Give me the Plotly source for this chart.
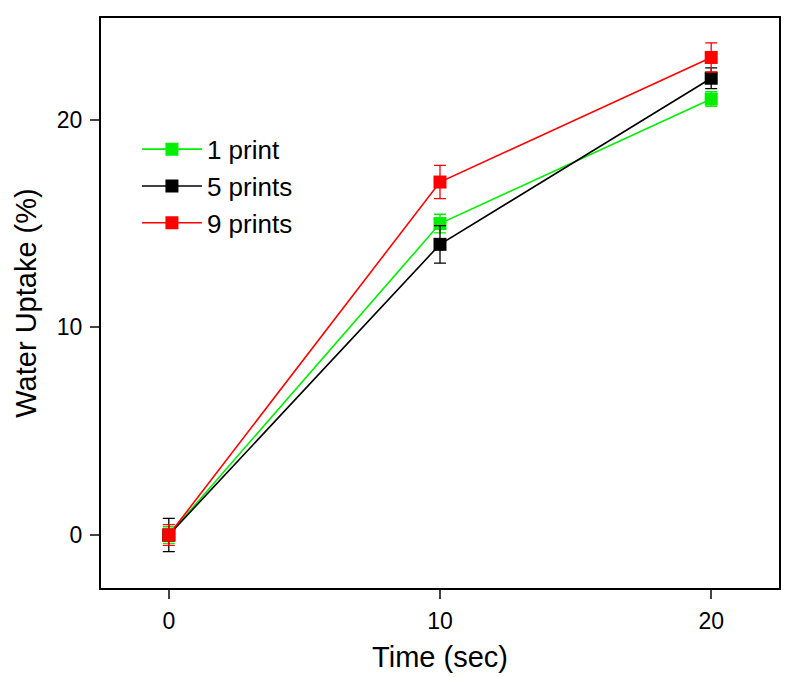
import plotly.graph_objects as go

time_sec = [0, 10, 20]
series_names = ["1 print", "5 prints", "9 prints"]
uptake_1 = [0, 15.0, 21.0]
err_1 = [0.4, 0.45, 0.35]
uptake_5 = [0, 14.0, 22.0]
err_5 = [0.8, 0.9, 0.5]
uptake_9 = [0, 17.0, 23.0]
err_9 = [0.5, 0.8, 0.7]
colors = ["#00ee00", "#000000", "#ff0000"]

fig = go.Figure()
for name, ys, es, c in zip(series_names, [uptake_1, uptake_5, uptake_9], [err_1, err_5, err_9], colors):
    fig.add_trace(go.Scatter(
        x=time_sec, y=ys, name=name, mode="lines+markers",
        line=dict(color=c, width=1.6),
        marker=dict(symbol="square", size=13, color=c),
        error_y=dict(type="data", array=es, visible=True, color=c, thickness=1.3, width=6),
    ))

font_family = "Liberation Sans, Arial, sans-serif"
fig.update_layout(
    width=781, height=669,
    margin=dict(l=93, r=8, t=10, b=89),
    paper_bgcolor="white", plot_bgcolor="white",
    font=dict(family=font_family, color="black", size=23),
    showlegend=True,
    legend=dict(x=0.053, y=0.811, xanchor="left", yanchor="top",
                bgcolor="rgba(0,0,0,0)", font=dict(size=26),
                itemwidth=60, tracegroupgap=0),
    xaxis=dict(
        range=[-2.5, 22.5], tickvals=[0, 10, 20], ticks="outside", ticklen=9,
        tickwidth=2, showgrid=False, zeroline=False, showline=True, linewidth=2,
        linecolor="black", mirror=True, ticklabelstandoff=2,
        title=dict(text="Time (sec)", font=dict(size=29), standoff=14),
        tickfont=dict(size=23),
    ),
    yaxis=dict(
        range=[-2.55, 24.9], tickvals=[0, 10, 20], ticks="outside", ticklen=9,
        tickwidth=2, showgrid=False, zeroline=False, showline=True, linewidth=2,
        linecolor="black", mirror=True, ticklabelstandoff=3,
        title=dict(text="Water Uptake (%)", font=dict(size=29), standoff=12),
        tickfont=dict(size=23),
    ),
)
fig.write_html("out.html")
